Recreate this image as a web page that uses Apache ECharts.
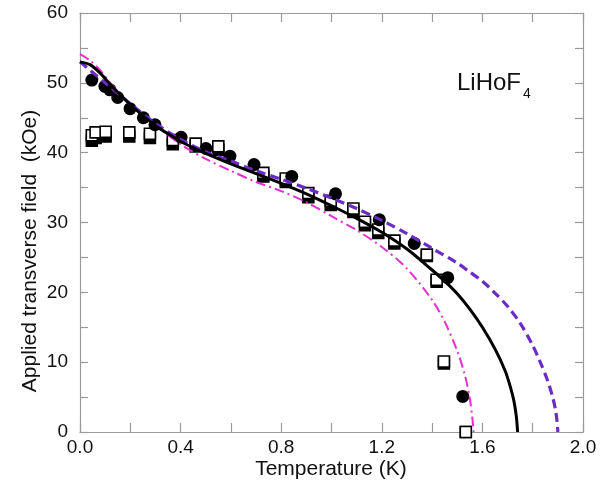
<!DOCTYPE html>
<html>
<head>
<meta charset="utf-8">
<script src="https://cdn.jsdelivr.net/npm/echarts@6/dist/echarts.min.js"></script>
<style>html,body{margin:0;padding:0;background:#fff;}#c{width:613px;height:489px;}</style>
</head>
<body>
<div id="c"></div>
<script>
// Data
var xTicks = [0, 0.4, 0.8, 1.2, 1.6, 2.0];
var yTicks = [0, 10, 20, 30, 40, 50, 60];

var circleT = [0.047,0.099,0.119,0.150,0.199,0.252,0.298,0.402,0.501,0.596,0.692,0.842,1.016,1.190,1.329,1.462,1.522];
var circleH = [50.4,49.5,49.0,47.9,46.3,45.0,44.0,42.2,40.6,39.5,38.3,36.6,34.1,30.4,27.0,22.1,5.1];

var squareT = [0.047,0.062,0.102,0.196,0.278,0.369,0.460,0.550,0.729,0.818,0.908,0.997,1.087,1.133,1.186,1.250,1.379,1.418,1.447,1.534];
var openSqH = [42.5,42.9,43.0,42.9,42.7,41.8,41.3,40.9,37.1,36.3,34.2,33.1,32.0,30.1,29.0,27.4,25.4,21.8,10.1,0.0];
var fillSqH = [41.7,42.1,42.3,42.3,42.1,41.2,40.9,40.4,36.6,35.8,33.6,32.5,31.5,29.6,28.5,27.0,25.2,21.5,9.8,0.0];

var solidT = [0,0.04,0.08,0.12,0.16,0.2,0.25,0.3,0.35,0.4,0.5,0.6,0.7,0.8,0.9,1.0,1.1,1.2,1.3,1.4,1.45,1.5,1.55,1.6,1.65,1.69,1.71,1.725,1.735,1.74];
var solidH = [53.0,52.6,51.4,49.8,48.3,46.9,45.3,43.9,42.7,41.6,39.9,38.4,37.0,35.6,34.1,32.4,30.6,28.6,26.2,23.2,21.6,19.8,17.6,15.0,11.9,8.8,6.6,4.5,2.2,0];

var dashT = [0,0.1,0.2,0.3,0.4,0.5,0.6,0.7,0.8,0.9,1.0,1.1,1.2,1.3,1.4,1.5,1.55,1.6,1.65,1.7,1.75,1.8,1.83,1.86,1.88,1.89,1.897,1.9];
var dashH = [53.0,50.0,47.0,44.2,41.9,40.1,38.8,37.4,36.2,34.9,33.5,32.0,30.3,28.4,26.3,24.2,22.9,21.6,19.9,18.0,15.6,12.4,10.0,7.3,4.9,3.3,1.5,0];

var dotT = [0,0.04,0.08,0.12,0.16,0.2,0.3,0.4,0.5,0.6,0.7,0.8,0.9,1.0,1.1,1.2,1.3,1.4,1.45,1.5,1.53,1.55,1.56,1.565];
var dotH = [54.1,53.2,51.8,50.0,48.4,46.9,43.9,41.2,39.1,37.4,35.8,34.5,32.9,30.9,28.9,26.5,23.4,18.9,15.8,11.6,8.2,4.8,2.0,0];

function zip(a, b) { return a.map(function (v, i) { return [v, b[i]]; }); }

var chart = echarts.init(document.getElementById('c'));
var FONT = 'Liberation Sans';
var axisGray = '#9a9a9a';

function xAx(pos, show) {
  return {
    type: 'value', position: pos, min: xTicks[0], max: xTicks[xTicks.length - 1], interval: 0.4,
    axisLine: { show: true, onZero: false, lineStyle: { color: axisGray, width: 1.2 } },
    axisTick: { show: true, inside: true, length: 9, lineStyle: { color: axisGray, width: 1.2 } },
    minorTick: { show: true, splitNumber: 2, length: 9, lineStyle: { color: axisGray, width: 1.2 } },
    splitLine: { show: false },
    axisLabel: { show: show, margin: 6, color: '#111', fontSize: 19, fontFamily: FONT,
      formatter: function (v) { return v.toFixed(1); } }
  };
}
function yAx(pos, show) {
  return {
    type: 'value', position: pos, min: yTicks[0], max: yTicks[yTicks.length - 1], interval: 10,
    axisLine: { show: true, onZero: false, lineStyle: { color: axisGray, width: 1.2 } },
    axisTick: { show: true, inside: true, length: 8, lineStyle: { color: axisGray, width: 1.2 } },
    minorTick: { show: true, splitNumber: 2, length: 8, lineStyle: { color: axisGray, width: 1.2 } },
    splitLine: { show: false },
    axisLabel: { show: show, margin: 12, color: '#111', fontSize: 19, fontFamily: FONT }
  };
}

chart.setOption({
  animation: false,
  backgroundColor: '#fff',
  grid: { left: 80, right: 30, top: 13, bottom: 57 },
  xAxis: [xAx('bottom', true), xAx('top', false)],
  yAxis: [yAx('left', true), yAx('right', false)],
  series: [
    { type: 'line', data: zip(dotT, dotH), showSymbol: false, smooth: 0.3,
      lineStyle: { color: '#e62ed2', width: 2, type: [10, 4, 2, 4] } },
    { type: 'line', data: zip(dashT, dashH), showSymbol: false, smooth: 0.3,
      lineStyle: { color: '#6a2cc4', width: 3.2, type: [9, 5] } },
    { type: 'line', data: zip(solidT, solidH), showSymbol: false, smooth: 0.3,
      lineStyle: { color: '#000', width: 3 } },
    { type: 'scatter', data: zip(squareT, fillSqH), symbol: 'rect', symbolSize: 11,
      itemStyle: { color: '#000', borderColor: '#000', borderWidth: 1.5, opacity: 1 } },
    { type: 'scatter', data: zip(squareT, openSqH), symbol: 'rect', symbolSize: 11,
      itemStyle: { color: '#fff', borderColor: '#000', borderWidth: 1.6, opacity: 1 } },
    { type: 'scatter', data: zip(circleT, circleH), symbol: 'circle', symbolSize: 13,
      itemStyle: { color: '#000', opacity: 1 } }
  ],
  graphic: [
    { type: 'text', x: 331, y: 469,
      style: { text: 'Temperature (K)', font: '21px ' + FONT, fill: '#111', textAlign: 'center', textVerticalAlign: 'middle' } },
    { type: 'text', x: 30, y: 251, rotation: Math.PI / 2,
      style: { text: 'Applied transverse field  (kOe)', font: '21px ' + FONT, fill: '#111', textAlign: 'center', textVerticalAlign: 'middle' } },
    { type: 'text', x: 457, y: 83,
      style: { text: 'LiHoF', font: '24px ' + FONT, fill: '#111', textAlign: 'left', textVerticalAlign: 'middle' } },
    { type: 'text', x: 523, y: 94,
      style: { text: '4', font: '14px ' + FONT, fill: '#111', textAlign: 'left', textVerticalAlign: 'middle' } }
  ]
});
</script>
</body>
</html>
